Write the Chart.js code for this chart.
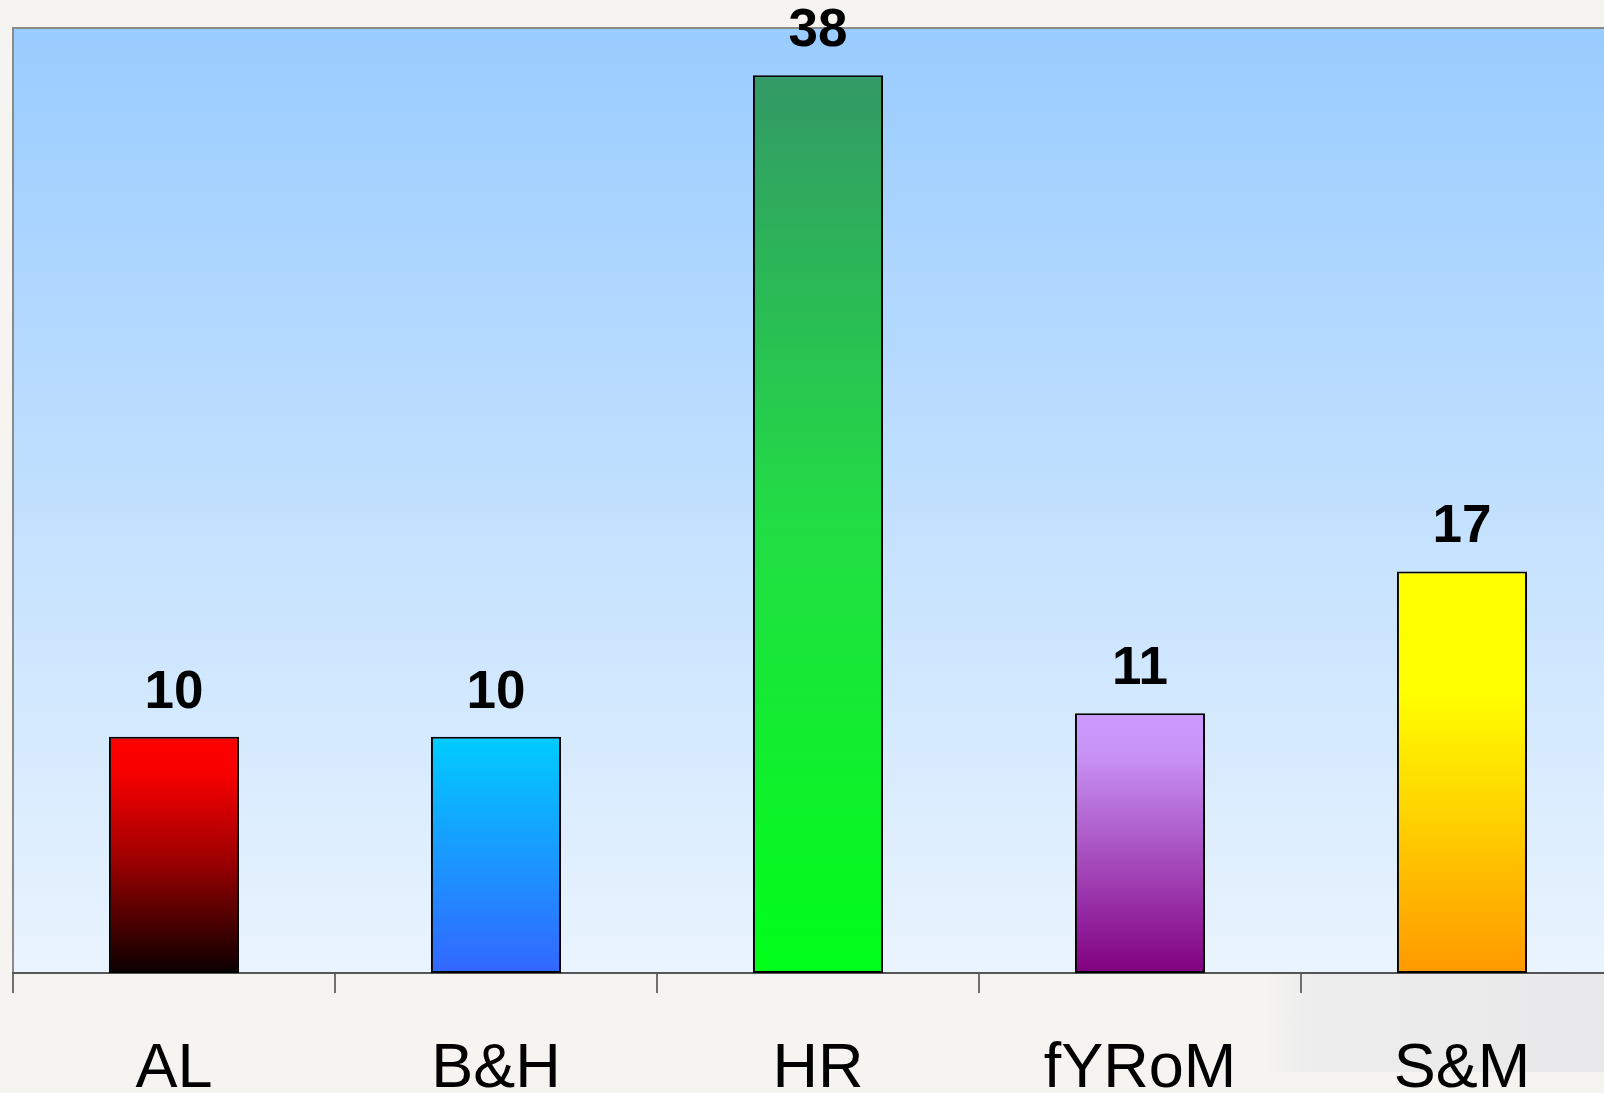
<!DOCTYPE html>
<html>
<head>
<meta charset="utf-8">
<title>Bar chart</title>
<script src="https://cdn.jsdelivr.net/npm/chart.js@4.4.1/dist/chart.umd.min.js"></script>
<style>
    html, body { margin: 0; padding: 0; background: #f5f4f0; overflow: hidden; }
    #wrap { position: relative; width: 1604px; height: 1093px; overflow: hidden; }
    #shade {
        position: absolute; left: 1262px; top: 974px; width: 342px; height: 98px;
        background: linear-gradient(to right, rgba(238,238,238,0) 0%, #eeeeee 12%, #e8e8ea 100%);
    }
    #chart { position: absolute; left: 0; top: 0; }
</style>
</head>
<body>
<div id="wrap">
    <div id="shade"></div>
    <canvas id="chart" width="1640" height="1093"></canvas>
</div>
<script>
// data
const categories = ['AL', 'B&H', 'HR', 'fYRoM', 'S&M'];
const values = [10, 10, 38, 11, 17];
const yMin = 0;
const yMax = 40;

// top -> bottom gradient stops for each bar
const barStops = [
    [[0, '#ff0000'], [0.15, '#f80000'], [0.5, '#a30000'], [1, '#0a0000']],
    [[0, '#00ccff'], [1, '#3366ff']],
    [[0, '#339966'], [0.5, '#22dd44'], [1, '#00ff19']],
    [[0, '#cc99ff'], [0.15, '#c994f7'], [1, '#800080']],
    [[0, '#ffff00'], [0.3, '#ffff00'], [1, '#ff9900']]
];

function barGradient(context) {
    const chart = context.chart;
    const i = context.dataIndex;
    if (!chart.chartArea || !chart.scales.y) return barStops[i][0][1];
    const top = chart.scales.y.getPixelForValue(values[i]);
    const bottom = chart.scales.y.getPixelForValue(0);
    const g = chart.ctx.createLinearGradient(0, top, 0, bottom);
    barStops[i].forEach(s => g.addColorStop(s[0], s[1]));
    return g;
}

// plot area background + top/left frame
const plotBackground = {
    id: 'plotBackground',
    beforeDraw(chart) {
        const { ctx, chartArea: a } = chart;
        const g = ctx.createLinearGradient(0, a.top, 0, a.bottom);
        g.addColorStop(0, '#99ccff');
        g.addColorStop(1, '#eaf4fe');
        ctx.save();
        ctx.fillStyle = g;
        ctx.fillRect(a.left, a.top, a.right - a.left, a.bottom - a.top);
        ctx.strokeStyle = '#8a8a8a';
        ctx.lineWidth = 2;
        ctx.beginPath();
        ctx.moveTo(a.left, a.bottom);
        ctx.lineTo(a.left, a.top);
        ctx.lineTo(a.right, a.top);
        ctx.stroke();
        ctx.restore();
    }
};

// value labels above the bars
const valueLabels = {
    id: 'valueLabels',
    afterDatasetsDraw(chart) {
        const ctx = chart.ctx;
        const meta = chart.getDatasetMeta(0);
        ctx.save();
        ctx.font = 'bold 53px "Liberation Sans", Arial, sans-serif';
        ctx.fillStyle = '#000';
        ctx.textAlign = 'center';
        ctx.textBaseline = 'alphabetic';
        meta.data.forEach((bar, i) => {
            ctx.fillText(String(values[i]), bar.x, bar.y - 29);
        });
        ctx.restore();
    }
};

new Chart(document.getElementById('chart'), {
    type: 'bar',
    data: {
        labels: categories,
        datasets: [{
            data: values,
            backgroundColor: barGradient,
            borderColor: '#000',
            borderWidth: 2,
            borderSkipped: false,
            barPercentage: 0.404,
            categoryPercentage: 1
        }]
    },
    options: {
        responsive: false,
        animation: false,
        devicePixelRatio: 1,
        layout: { padding: { left: 13, top: 28, right: 17, bottom: 0 } },
        plugins: {
            legend: { display: false },
            tooltip: { enabled: false }
        },
        scales: {
            x: {
                offset: true,
                afterFit(scale) { scale.height = 120; },
                grid: {
                    offset: true,
                    drawOnChartArea: false,
                    drawTicks: true,
                    tickLength: 20,
                    color: '#707070',
                    lineWidth: 2
                },
                border: { display: true, color: '#555555', width: 2 },
                ticks: {
                    color: '#000',
                    padding: 39,
                    maxRotation: 0,
                    autoSkip: false,
                    font: { family: '"Liberation Sans", Arial, sans-serif', size: 63 }
                }
            },
            y: {
                display: false,
                min: yMin,
                max: yMax
            }
        }
    },
    plugins: [plotBackground, valueLabels]
});
</script>
</body>
</html>
